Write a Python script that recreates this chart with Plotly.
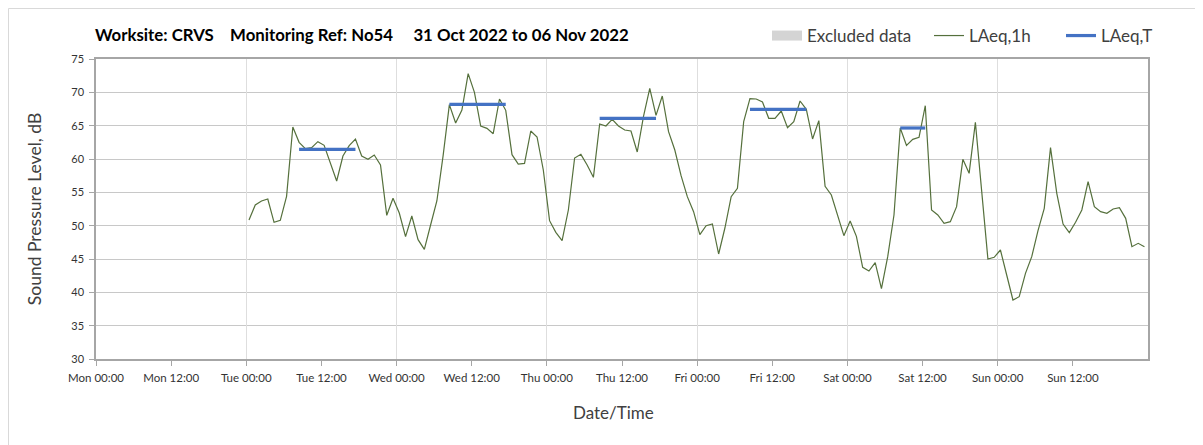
import pandas as pd
import plotly.graph_objects as go

# Hourly LAeq,1h values (dB), Tue 01 Nov 2022 00:26 onward
tue = [50.85, 53.1, 53.7, 54.0, 50.5, 50.8, 54.4, 64.8, 62.5, 61.55, 61.7, 62.6,
       62.05, 59.4, 56.7, 60.45, 62.0, 63.0, 60.45, 59.95, 60.6, 59.1, 51.55, 54.1]
wed = [51.9, 48.35, 51.45, 47.9, 46.45, 50.1, 53.7, 60.5, 68.15, 65.4, 67.35, 72.8,
       70.0, 64.95, 64.6, 63.8, 69.0, 67.3, 60.65, 59.25, 59.35, 64.2, 63.3, 58.35]
thu = [50.75, 49.0, 47.75, 52.35, 60.15, 60.7, 59.1, 57.25, 65.25, 64.95, 65.95, 64.95,
       64.35, 64.2, 61.05, 66.4, 70.6, 66.55, 69.45, 64.1, 61.35, 57.5, 54.35, 52.1]
fri = [48.65, 50.0, 50.25, 45.75, 49.65, 54.35, 55.6, 65.6, 69.05, 69.0, 68.55, 66.1,
       66.1, 67.2, 64.7, 65.6, 68.7, 67.45, 63.0, 65.75, 55.9, 54.6, 51.6, 48.5]
sat = [50.7, 48.4, 43.75, 43.2, 44.45, 40.55, 45.35, 51.6, 64.65, 62.05, 62.95, 63.25,
       68.0, 52.35, 51.6, 50.35, 50.6, 52.85, 59.95, 57.85, 65.5, 55.2, 45.0, 45.25]
sun = [46.35, 42.6, 38.85, 39.35, 42.85, 45.35, 49.25, 52.6, 61.7, 54.85, 50.25, 48.95,
       50.5, 52.35, 56.6, 52.85, 52.1, 51.85, 52.5, 52.7, 51.1, 46.85, 47.35, 46.85]
laeq_1h = tue + wed + thu + fri + sat + sun
first_time = "2022-11-01 00:26"

# LAeq,T daytime averages
laeqt_start = ["2022-11-01 08:26", "2022-11-02 08:26", "2022-11-03 08:26",
               "2022-11-04 08:26", "2022-11-05 08:26"]
laeqt_end = ["2022-11-01 17:26", "2022-11-02 17:26", "2022-11-03 17:26",
             "2022-11-04 17:26", "2022-11-05 12:26"]
laeqt_values = [61.45, 68.2, 66.1, 67.45, 64.65]

x_start = "2022-10-31 00:00"
x_end = "2022-11-07 00:00"
y_ticks = [30, 35, 40, 45, 50, 55, 60, 65, 70, 75]

times = pd.date_range(first_time, periods=len(laeq_1h), freq="h")
tickvals = pd.date_range(x_start, periods=14, freq="12h")
ticktext = [t.strftime("%a %H:%M") for t in tickvals]

bx, by = [], []
for s, e, v in zip(laeqt_start, laeqt_end, laeqt_values):
    bx += [s, e, None]
    by += [v, v, None]

FONT = "Lato"
W, H = 1195, 437          # page body has an 8px margin
ML, MR, MT, MB = 88, 55, 51, 86
PW, PH = W - ML - MR, H - MT - MB

fig = go.Figure()
# No excluded periods in this week: legend entry only
fig.add_trace(go.Scatter(x=[None], y=[None], mode="lines", name="Excluded data",
                         line=dict(color="#d4d4d4", width=12),
                         showlegend=True, legend="legend"))
fig.add_trace(go.Scatter(x=times, y=laeq_1h, mode="lines", name="LAeq,1h",
                         line=dict(color="#55703c", width=1.2), legend="legend2"))
fig.add_trace(go.Scatter(x=bx, y=by, mode="lines", name="LAeq,T",
                         line=dict(color="#4472c4", width=3.2), xaxis="x2",
                         legend="legend3"))

nb = "\u00a0"
title = f"<b>Worksite: CRVS{nb*4}Monitoring Ref: No54{nb*5}31 Oct 2022 to 06 Nov 2022</b>"


def leg(px_left):
    return dict(orientation="h", x=(px_left - 96) / PW, xanchor="left", xref="paper",
                y=1 + 23 / PH, yanchor="middle", yref="paper",
                font=dict(family=FONT, size=17, color="#404040"),
                bgcolor="rgba(0,0,0,0)", itemwidth=30)


fig.update_layout(
    width=W, height=H,
    margin=dict(l=ML, r=MR, t=MT, b=MB, autoexpand=False),
    paper_bgcolor="white", plot_bgcolor="white",
    font=dict(family=FONT, color="#404040"),
    title=dict(text=title, x=87 / W, xanchor="left", xref="container",
               y=1 - 27 / H, yanchor="middle", yref="container",
               font=dict(family=FONT, size=16.8, color="#000000")),
    showlegend=True,
    legend=leg(767), legend2=leg(929), legend3=leg(1061),
    xaxis=dict(range=[x_start, x_end], type="date",
               tickvals=tickvals, ticktext=ticktext,
               ticks="outside", ticklen=5, tickcolor="#a6a6a6",
               ticklabelstandoff=2,
               showgrid=False, showline=True, linecolor="#a6a6a6", linewidth=1.5,
               mirror=True, zeroline=False, automargin=False,
               tickfont=dict(family=FONT, size=11.5, color="#333333")),
    xaxis2=dict(range=[x_start, x_end], type="date", overlaying="x", anchor="y",
                dtick=86400000, tick0=x_start, showticklabels=False, ticks="",
                showgrid=True, gridcolor="#dedede", gridwidth=1, showline=False,
                zeroline=False),
    yaxis=dict(range=[30, 75], tickvals=y_ticks,
               ticks="outside", ticklen=5, tickcolor="#a6a6a6",
               ticklabelstandoff=3,
               showgrid=True, gridcolor="#c8c8c8", gridwidth=1,
               showline=True, linecolor="#a6a6a6", linewidth=1.5, mirror=True,
               zeroline=False, automargin=False,
               tickfont=dict(family=FONT, size=11, color="#333333"),
               title=dict(text="Sound Pressure Level, dB", standoff=25,
                          font=dict(family=FONT, size=17.5, color="#404040"))),
    annotations=[dict(text="Date/Time", xref="paper", yref="paper",
                      x=(613 - 96) / PW, y=-(412 - 359) / PH,
                      xanchor="center", yanchor="middle", showarrow=False,
                      font=dict(family=FONT, size=17, color="#404040"))],
    shapes=[dict(type="rect", xref="paper", yref="paper",
                 x0=(0.5 - ML) / PW, x1=1.3, y0=-0.6, y1=(PH + MT - 0.5) / PH,
                 line=dict(color="#d9d9d9", width=1), fillcolor="rgba(0,0,0,0)",
                 layer="below")],
)

fig.write_html("out.html")
